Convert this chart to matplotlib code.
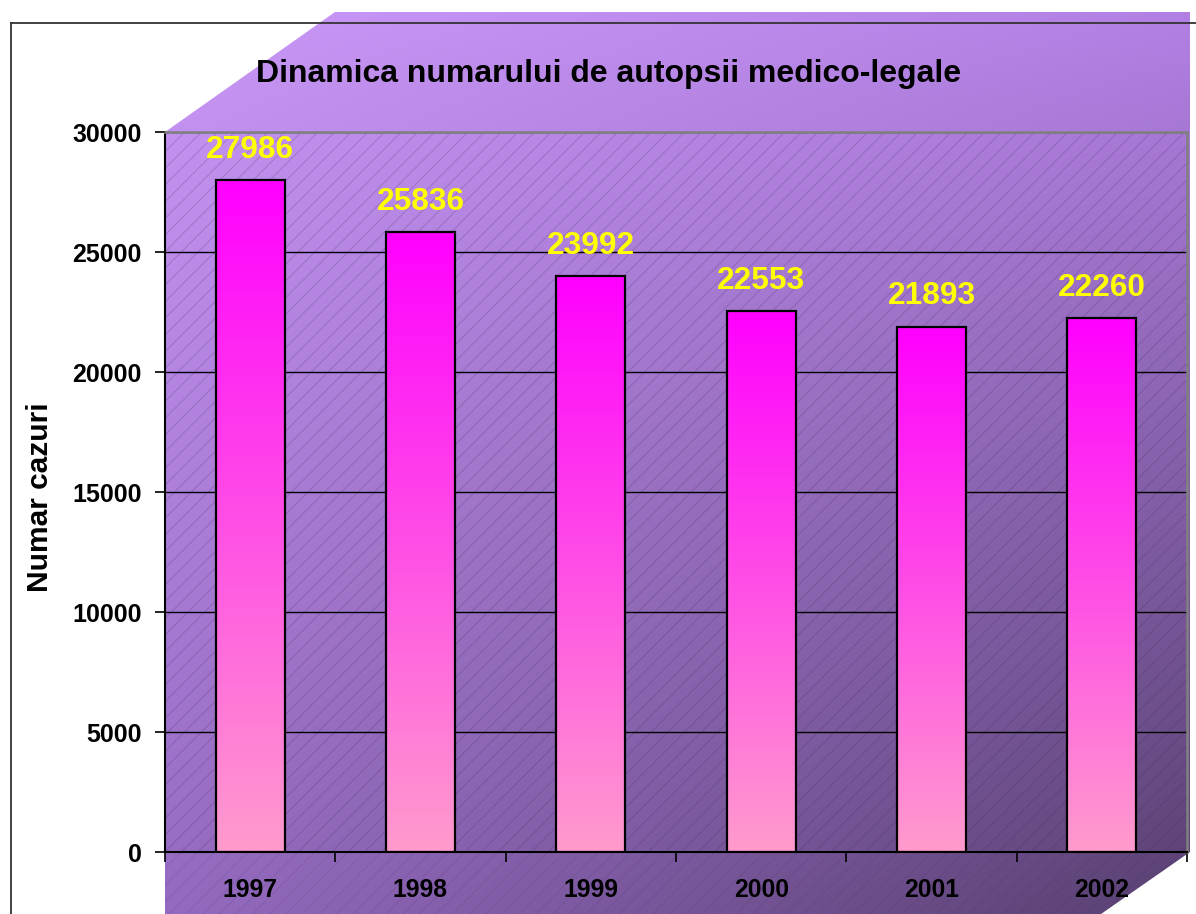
import numpy as np
import matplotlib.pyplot as plt
from matplotlib.patches import Polygon, Rectangle
from matplotlib.lines import Line2D

# data
years = ['1997', '1998', '1999', '2000', '2001', '2002']
cases = [27986, 25836, 23992, 22553, 21893, 22260]
y_ticks = [0, 5000, 10000, 15000, 20000, 25000, 30000]
title = 'Dinamica numarului de autopsii medico-legale'
y_label = 'Numar cazuri'

W, H = 1196, 914
plt.rcParams['font.family'] = ['Liberation Sans', 'DejaVu Sans']
plt.rcParams['font.weight'] = 'bold'
plt.rcParams['hatch.linewidth'] = 0.6

fig = plt.figure(figsize=(W / 100, H / 100), dpi=100)

# background layer in pixel coords (3d walls, floor)
bg = fig.add_axes([0, 0, 1, 1], zorder=0)
bg.set_xlim(0, W)
bg.set_ylim(H, 0)
bg.axis('off')

tl = np.array([202, 152, 247]) / 255
tr = np.array([178, 128, 228]) / 255
bl = np.array([148, 106, 192]) / 255
br = np.array([88, 64, 112]) / 255
u = np.linspace(0, 1, 256)[None, :, None]
v = np.linspace(0, 1, 256)[:, None, None]
grad = (1 - u) * (1 - v) * tl + u * (1 - v) * tr + (1 - u) * v * bl + u * v * br

wall_pts = [(165, 132), (335, 12), (1190, 12), (1190, 852), (1101, 914), (165, 914)]
wall = Polygon(wall_pts, closed=True, facecolor='none', edgecolor='none')
bg.add_patch(wall)
im = bg.imshow(grad, extent=(165, 1190, 914, 12), aspect='auto', interpolation='bilinear')
im.set_clip_path(wall)
bg.set_xlim(0, W)
bg.set_ylim(H, 0)

# hatching on back wall and floor
bg.add_patch(Rectangle((165, 132), 1022, 720, facecolor='none', hatch='//',
                       edgecolor=(0.25, 0.15, 0.35, 0.27), linewidth=0))
bg.add_patch(Polygon([(165, 852), (1190, 852), (1101, 914), (165, 914)], closed=True,
                     facecolor='none', hatch='//', edgecolor=(0.25, 0.15, 0.35, 0.15), linewidth=0))

# main axes
ax = fig.add_axes([165 / W, 1 - 852 / H, (1187 - 165) / W, 720 / H], zorder=1)
ax.patch.set_alpha(0)
x = np.arange(len(years))
bar_w = 0.405
bars = ax.bar(x, cases, width=bar_w, facecolor='none', edgecolor='black', linewidth=1.6, zorder=3)

top_c = np.array([255, 0, 255]) / 255
bot_c = np.array([255, 155, 205]) / 255
t = np.linspace(0, 1, 200)[:, None, None]
bar_grad = (1 - t) * top_c + t * bot_c
for b in bars:
    x0 = b.get_x()
    ax.imshow(bar_grad, extent=(x0, x0 + b.get_width(), 0, b.get_height()),
              aspect='auto', zorder=2, interpolation='bilinear')

for xi, val in zip(x, cases):
    ax.annotate(str(val), (xi, val), xytext=(0, 16), textcoords='offset points',
                ha='center', va='baseline', color='#FFFF00', fontsize=22.8, fontweight='bold')

ax.set_xlim(-0.5, len(years) - 0.5)
ax.set_ylim(0, 30000)
ax.set_yticks(y_ticks)
ax.yaxis.grid(True, color='black', linewidth=1)
ax.set_axisbelow(True)

ax.set_xticks(np.arange(-0.5, len(years), 1))
ax.set_xticklabels([])
ax.set_xticks(x, minor=True)
ax.set_xticklabels(years, minor=True)
ax.tick_params(axis='x', which='major', direction='out', length=7, width=1.2)
ax.tick_params(axis='x', which='minor', length=0, pad=19, labelsize=17.8)
ax.tick_params(axis='y', direction='out', length=7, width=1.2, pad=10, labelsize=18)

for s in ['left', 'bottom']:
    ax.spines[s].set_color('black')
    ax.spines[s].set_linewidth(1.5)
for s in ['top', 'right']:
    ax.spines[s].set_color('#808080')
    ax.spines[s].set_linewidth(1.8)

fig.text(609 / W, 1 - 82 / H, title, ha='center', va='baseline', fontsize=23, fontweight='bold')
fig.text(40 / W, 1 - 497 / H, y_label, rotation=90, ha='center', va='center',
         fontsize=21.5, fontweight='bold')

# chart frame (top and left edges visible)
fig.add_artist(Line2D([11 / W, 1], [1 - 23 / H, 1 - 23 / H], color='#333333', lw=1.3,
                      transform=fig.transFigure, zorder=5))
fig.add_artist(Line2D([11 / W, 11 / W], [0, 1 - 23 / H], color='#333333', lw=1.3,
                      transform=fig.transFigure, zorder=5))

fig.savefig('out.png', dpi=100)
